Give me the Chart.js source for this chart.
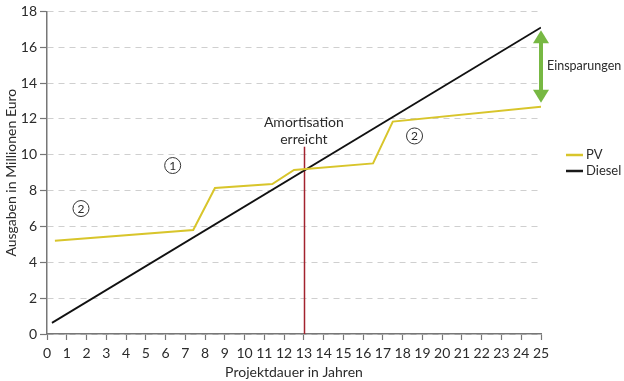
<!DOCTYPE html>
<html><head><meta charset="utf-8">
<script src="https://cdn.jsdelivr.net/npm/chart.js@4/dist/chart.umd.min.js"></script>
<style>html,body{margin:0;padding:0;background:#fff}#wrap{width:624px;height:381px}</style>
</head><body><div id="wrap"><canvas id="c" width="624" height="381"></canvas></div>
<script>
const pvYears = [0.4, 7.4, 8.5, 11.4, 12.5, 16.5, 17.5, 25];
const pvValues = [5.2, 5.8, 8.15, 8.37, 9.15, 9.52, 11.85, 12.68];
const dieselYears = [0.25, 25];
const dieselValues = [0.62, 17.1];
const xTicks = [0,1,2,3,4,5,6,7,8,9,10,11,12,13,14,15,16,17,18,19,20,21,22,23,24,25];
const yTicks = [0,2,4,6,8,10,12,14,16,18];
const seriesNames = ['PV', 'Diesel'];
const amortYear = 13;
const FONT = 'Lato, "Open Sans", sans-serif';
const TXT = '#2b2b2b';

const annot = {
  id: 'annot',
  beforeDatasetsDraw(chart) {
    const {ctx, scales:{x, y}} = chart;
    ctx.save();
    ctx.strokeStyle = '#a3232f';
    ctx.lineWidth = 1.5;
    const px = Math.round(x.getPixelForValue(amortYear)) + 0.5;
    ctx.beginPath();
    ctx.moveTo(px, y.getPixelForValue(10.45));
    ctx.lineTo(px, y.getPixelForValue(0));
    ctx.stroke();
    ctx.restore();
  },
  afterDatasetsDraw(chart) {
    const {ctx, scales:{x, y}} = chart;
    ctx.save();
    ctx.fillStyle = TXT;
    ctx.font = '14px ' + FONT;
    ctx.textAlign = 'center';
    ctx.textBaseline = 'middle';
    const ax = x.getPixelForValue(amortYear);
    ctx.fillText('Amortisation', ax, 122);
    ctx.fillText('erreicht', ax, 139);
    // circled numbers
    const circ = [[6.36, 9.4, '1'], [1.72, 7.0, '2'], [18.6, 11.05, '2']];
    circ.forEach(([cx, cy, t]) => {
      const X = x.getPixelForValue(cx), Y = y.getPixelForValue(cy);
      ctx.beginPath();
      ctx.arc(X, Y, 8, 0, Math.PI * 2);
      ctx.strokeStyle = '#333';
      ctx.lineWidth = 1;
      ctx.stroke();
      ctx.font = '12px ' + FONT;
      ctx.fillText(t, X, Y + 0.5);
    });
    // savings arrow
    const gx = x.getPixelForValue(25);
    const yTop = y.getPixelForValue(16.95), yBot = y.getPixelForValue(12.9);
    ctx.fillStyle = '#77b843';
    ctx.strokeStyle = '#77b843';
    ctx.lineWidth = 4;
    ctx.beginPath();
    ctx.moveTo(gx, yTop + 10); ctx.lineTo(gx, yBot - 10); ctx.stroke();
    ctx.beginPath();
    ctx.moveTo(gx, yTop); ctx.lineTo(gx - 8, yTop + 13); ctx.lineTo(gx + 8, yTop + 13); ctx.closePath(); ctx.fill();
    ctx.beginPath();
    ctx.moveTo(gx, yBot); ctx.lineTo(gx - 8, yBot - 13); ctx.lineTo(gx + 8, yBot - 13); ctx.closePath(); ctx.fill();
    ctx.fillStyle = TXT;
    ctx.font = '12.5px ' + FONT;
    ctx.textAlign = 'left';
    ctx.fillText('Einsparungen', gx + 6, (yTop + yBot) / 2 - 1);
    // legend
    const cols = ['#d8c52b', '#1a1a1a'];
    ctx.font = '13px ' + FONT;
    seriesNames.forEach((n, i) => {
      const ly = 155 + i * 16;
      ctx.strokeStyle = cols[i];
      ctx.lineWidth = 2.5;
      ctx.beginPath(); ctx.moveTo(566, ly); ctx.lineTo(583, ly); ctx.stroke();
      ctx.fillStyle = TXT;
      ctx.fillText(n, 586, ly);
    });
    ctx.restore();
  }
};

new Chart(document.getElementById('c'), {
  type: 'line',
  data: {
    datasets: [
      { label: seriesNames[0], data: pvYears.map((v, i) => ({x: v, y: pvValues[i]})), borderColor: '#d8c52b', borderWidth: 2, pointRadius: 0, tension: 0 },
      { label: seriesNames[1], data: dieselYears.map((v, i) => ({x: v, y: dieselValues[i]})), borderColor: '#111', borderWidth: 1.8, pointRadius: 0, tension: 0 }
    ]
  },
  options: {
    responsive: false,
    animation: false,
    layout: { padding: { left: 3, right: 83, top: 7, bottom: 0 } },
    plugins: { legend: { display: false }, tooltip: { enabled: false } },
    scales: {
      x: {
        type: 'linear', min: 0, max: 25,
        afterBuildTicks: s => { s.ticks = xTicks.map(v => ({value: v})); },
        afterFit: s => { s.height = 47; },
        grid: { drawOnChartArea: false, drawTicks: true, tickLength: 6, tickColor: '#777', tickWidth: 1.2 },
        border: { color: '#777', width: 1.5 },
        ticks: { color: TXT, font: { family: FONT, size: 14 }, padding: 5, maxRotation: 0, autoSkip: false },
        title: { display: true, text: 'Projektdauer in Jahren', color: TXT, font: { family: FONT, size: 14 }, padding: { top: 0, bottom: 0 } }
      },
      y: {
        min: 0, max: 18,
        afterBuildTicks: s => { s.ticks = yTicks.map(v => ({value: v})); },
        afterFit: s => { s.width = 44; },
        grid: { color: '#cfcfcf', lineWidth: 1, drawTicks: true, tickLength: 7, tickColor: '#777', tickWidth: 1.2, tickBorderDash: [] },
        border: { color: '#777', width: 1.5, dash: [6, 5] },
        ticks: { color: TXT, font: { family: FONT, size: 14 }, padding: 3 },
        title: { display: true, text: 'Ausgaben in Millionen Euro', color: TXT, font: { family: FONT, size: 14 }, padding: { top: 0, bottom: 0 } }
      }
    }
  },
  plugins: [annot]
});
</script></body></html>
